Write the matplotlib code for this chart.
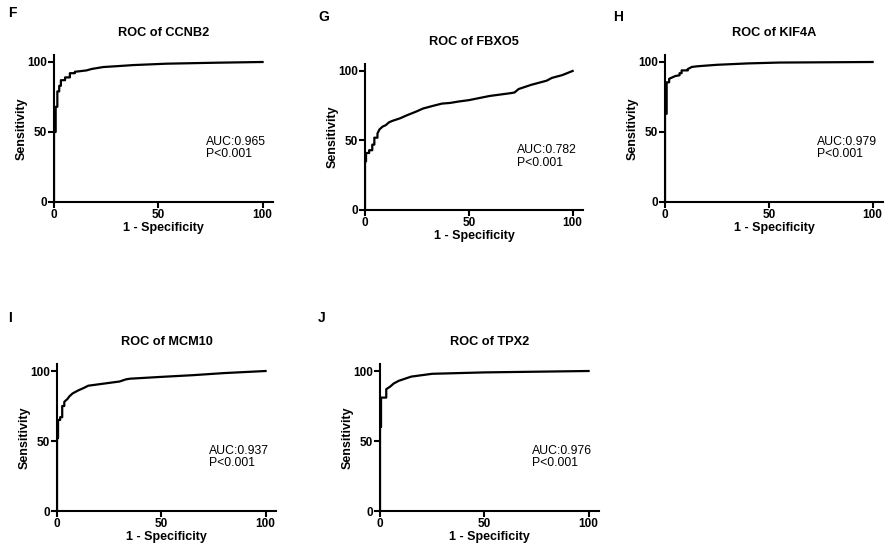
import matplotlib
matplotlib.use("Agg")
import matplotlib.pyplot as plt

plt.rcParams['font.family'] = ['Liberation Sans', 'DejaVu Sans']

# ROC curves (1 - specificity %, sensitivity %)
# repeated x values are the vertical steps near the origin
ccnb2_fpr = [0, 0, 0.8, 0.8, 1.6, 1.6, 2.5, 2.5, 3.3, 3.3, 5.3, 5.3, 7.6, 7.6, 10, 10,
             15.6, 18, 23.6, 30, 38, 54, 78, 100]
ccnb2_tpr = [0, 50, 50, 68, 68, 79, 79, 83, 83, 87, 87, 89, 89, 92, 92, 93,
             94, 95, 96.4, 97, 97.8, 98.8, 99.5, 100]

fbxo5_fpr = [0, 0, 0.5, 0.5, 2, 2, 3.5, 3.5, 4.5, 4.5, 6, 6, 7, 8.5, 10, 11.5, 13, 15,
             17, 20, 22.5, 25, 28, 30.5, 33, 37, 41, 45, 50, 55, 60, 65, 70, 72, 74,
             77, 80, 85, 87.5, 90, 95, 100]
fbxo5_tpr = [0, 35, 35, 41, 41, 43, 43, 47, 47, 52, 52, 55, 58, 60, 61, 63, 64, 65,
             66, 68, 69.5, 71, 73, 74, 75, 76.5, 77, 78, 79, 80.5, 82, 83, 84, 84.5, 87,
             88.5, 90, 92, 93, 95, 97, 100]

kif4a_fpr = [0, 0, 0.8, 0.8, 2, 2, 3.5, 5, 7, 7, 8, 8, 11, 11, 13, 16, 25, 40, 55, 100]
kif4a_tpr = [0, 63, 63, 85.5, 85.5, 88, 89, 90, 90.5, 92, 92, 94, 94, 95, 96.5, 97,
             98, 99, 99.6, 100]

mcm10_fpr = [0, 0, 0.5, 0.5, 1.5, 1.5, 2.5, 2.5, 3.5, 3.5, 5, 6, 7.5, 10, 13, 15, 20,
             25, 30, 33, 35, 50, 65, 80, 100]
mcm10_tpr = [0, 52, 52, 65, 65, 67, 67, 75, 75, 78, 80, 82, 84, 86, 88, 89.5, 90.5,
             91.5, 92.5, 94, 94.5, 95.8, 97, 98.5, 100]

tpx2_fpr = [0, 0, 0.5, 0.5, 3, 3, 5, 6.5, 9, 12, 15, 20, 25, 50, 100]
tpx2_tpr = [0, 60, 60, 81, 81, 87, 89, 91, 93, 94.5, 96, 97, 98, 99, 100]

genes = ["CCNB2", "FBXO5", "KIF4A", "MCM10", "TPX2"]
letters = ["F", "G", "H", "I", "J"]
aucs = ["0.965", "0.782", "0.979", "0.937", "0.976"]
curves = [(ccnb2_fpr, ccnb2_tpr), (fbxo5_fpr, fbxo5_tpr), (kif4a_fpr, kif4a_tpr),
          (mcm10_fpr, mcm10_tpr), (tpx2_fpr, tpx2_tpr)]

W, H = 887, 551
fig = plt.figure(figsize=(W / 100, H / 100), dpi=100)
fig.patch.set_facecolor("white")

# axes boxes in pixels: left x, bottom y (from top), width, height
boxes = [(54, 202, 219, 147), (365, 210, 218, 146), (665, 202, 218, 147),
         (57, 511, 219, 147), (380, 511, 219, 147)]
# panel letters (pixel x, y from top)
letter_pos = [(8, 13), (318, 17), (613, 17), (8, 318), (318, 318)]

for i in range(5):
    x0, yb, w, h = boxes[i]
    ax = fig.add_axes([x0 / W, (H - yb) / H, w / W, h / H])
    fpr, tpr = curves[i]
    ax.plot(fpr, tpr, color="black", lw=1.6)
    ax.set_xlim(0, 105)
    ax.set_ylim(0, 105)
    ax.set_xticks([0, 50, 100])
    ax.set_yticks([0, 50, 100])
    for s in ["top", "right"]:
        ax.spines[s].set_visible(False)
    for s in ["left", "bottom"]:
        ax.spines[s].set_linewidth(1.5)
    ax.tick_params(width=1.5, length=4, labelsize=8.5, pad=1)
    for lab in ax.get_xticklabels() + ax.get_yticklabels():
        lab.set_fontweight("bold")
    ax.set_xlabel("1 - Specificity", fontsize=9, fontweight="bold", labelpad=1)
    ax.set_ylabel("Sensitivity", fontsize=9, fontweight="bold", labelpad=0)
    ax.set_title("ROC of " + genes[i], fontsize=9.2, fontweight="bold", pad=14)
    ax.text(73, 43, "AUC:" + aucs[i], fontsize=8.8, va="center")
    ax.text(73, 34, "P<0.001", fontsize=8.8, va="center")
    lx, ly = letter_pos[i]
    fig.text(lx / W, 1 - ly / H, letters[i], fontsize=10, fontweight="bold",
             va="center", ha="left")

fig.savefig("out.png", dpi=100)
